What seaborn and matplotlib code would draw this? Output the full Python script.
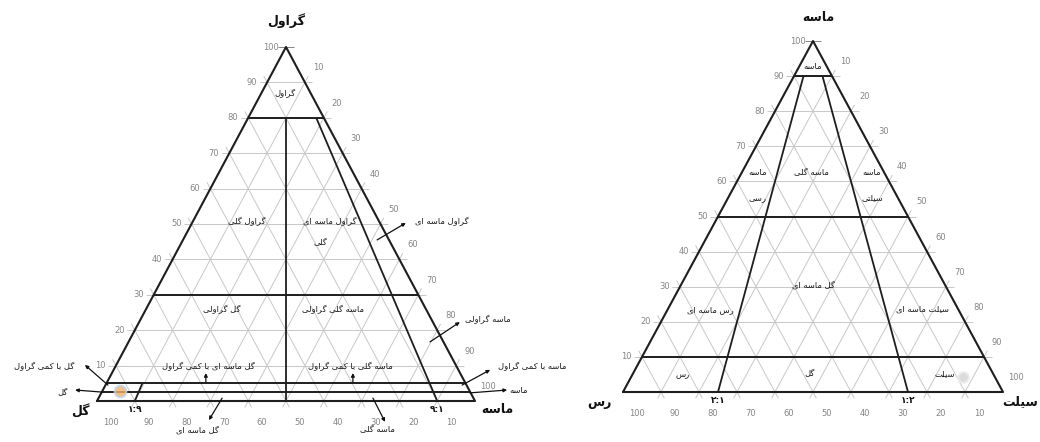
"""
Two ternary texture diagrams (gravel-sand-mud and sand-silt-clay) with Persian labels
"""
import matplotlib
matplotlib.use('Agg')
import matplotlib.pyplot as plt
import seaborn as sns
import numpy as np

# ================================================================================
# DATA
# ================================================================================

TICK_VALUES = [10, 20, 30, 40, 50, 60, 70, 80, 90, 100]

# left diagram: gravel (top), mud (bottom-left), sand (bottom-right)
LEFT_TOP_LEVELS = [0.80, 0.30, 0.05, 0.025]          # gravel fraction of class boundaries
LEFT_RAYS = [(0.5, 0.80), (0.9, 0.80), (0.1, 0.05)]  # (bottom fraction, gravel upper limit)
LEFT_RATIO_TEXT = [('۱:۹', 0.1), ('۹:۱', 0.9)]
LEFT_AXES_TEXT = [('گراول', 0.50, 1.076), ('گل', -0.045, -0.031), ('ماسه', 1.058, -0.025)]
LEFT_REGIONS = [
    ('گراول', 0.497, 0.867),
    ('گراول گلی', 0.397, 0.506),
    ('گراول ماسه ای', 0.616, 0.506),
    ('گلی', 0.590, 0.446),
    ('گل گراولی', 0.331, 0.257),
    ('ماسه گلی گراولی', 0.624, 0.257),
    ('گل ماسه ای با کمی گراول', 0.294, 0.096),
    ('ماسه گلی با کمی گراول', 0.669, 0.096),
]
# (text, text x, text y, target x, target y, text side x, text side y)
LEFT_CALLOUTS = [
    ('گراول ماسه ای', 0.913, 0.506, 0.741, 0.455, 0.817, 0.503),
    ('ماسه گراولی', 1.034, 0.229, 0.881, 0.167, 0.960, 0.223),
    ('ماسه با کمی گراول', 1.150, 0.096, 0.966, 0.045, 1.040, 0.088),
    ('ماسه', 1.116, 0.031, 0.987, 0.023, 1.085, 0.031),
    ('گل با کمی گراول', -0.140, 0.096, 0.029, 0.045, -0.032, 0.102),
    ('گل', -0.090, 0.025, 0.016, 0.025, -0.058, 0.031),
    ('گل ماسه ای', 0.265, -0.082, 0.331, 0.008, 0.296, -0.054),
    ('ماسه گلی', 0.741, -0.082, 0.730, 0.008, 0.762, -0.059),
    ('', 0.0, 0.0, 0.288, 0.054, 0.288, 0.079),
    ('', 0.0, 0.0, 0.677, 0.054, 0.677, 0.079),
]

# right diagram: sand (top), clay (bottom-left), silt (bottom-right)
RIGHT_TOP_LEVELS = [0.90, 0.50, 0.10]
RIGHT_RAYS = [(0.25, 0.90), (0.75, 0.90)]
RIGHT_RATIO_TEXT = [('۲:۱', 0.25), ('۱:۲', 0.75)]
RIGHT_AXES_TEXT = [('ماسه', 0.513, 1.068), ('رس', -0.061, -0.031), ('سیلت', 1.045, -0.026)]
RIGHT_REGIONS = [
    ('ماسه', 0.500, 0.926),
    ('ماسه', 0.353, 0.624),
    ('رسی', 0.353, 0.553),
    ('ماسه گلی', 0.497, 0.624),
    ('ماسه', 0.655, 0.624),
    ('سیلتی', 0.655, 0.553),
    ('گل ماسه ای', 0.500, 0.305),
    ('رس ماسه ای', 0.229, 0.236),
    ('سیلت ماسه ای', 0.787, 0.236),
    ('رس', 0.158, 0.051),
    ('گل', 0.492, 0.051),
    ('سیلت', 0.847, 0.051),
]

# ================================================================================
# PERSIAN SHAPING (matplotlib has no bidi / joining)
# ================================================================================

FORMS = {
    'ا': ('\uFE8D', '\uFE8E', None, None),
    'ب': ('\uFE8F', '\uFE90', '\uFE91', '\uFE92'),
    'ت': ('\uFE95', '\uFE96', '\uFE97', '\uFE98'),
    'ر': ('\uFEAD', '\uFEAE', None, None),
    'س': ('\uFEB1', '\uFEB2', '\uFEB3', '\uFEB4'),
    'ل': ('\uFEDD', '\uFEDE', '\uFEDF', '\uFEE0'),
    'م': ('\uFEE1', '\uFEE2', '\uFEE3', '\uFEE4'),
    'ن': ('\uFEE5', '\uFEE6', '\uFEE7', '\uFEE8'),
    'ه': ('\uFEE9', '\uFEEA', '\uFEEB', '\uFEEC'),
    'و': ('\uFEED', '\uFEEE', None, None),
    'ک': ('\uFB8E', '\uFB8F', '\uFB90', '\uFB91'),
    'گ': ('\uFB92', '\uFB93', '\uFB94', '\uFB95'),
    'ی': ('\uFBFC', '\uFBFD', '\uFBFE', '\uFBFF'),
}


def fa(text):
    out = []
    for i, c in enumerate(text):
        if c not in FORMS:
            out.append(c)
            continue
        iso, fin, ini, med = FORMS[c]
        prev = text[i - 1] if i > 0 else None
        nxt = text[i + 1] if i + 1 < len(text) else None
        join_prev = prev in FORMS and FORMS[prev][2] is not None
        join_next = ini is not None and nxt in FORMS
        if join_prev and join_next:
            out.append(med)
        elif join_prev:
            out.append(fin)
        elif join_next:
            out.append(ini)
        else:
            out.append(iso)
    return ''.join(out)[::-1]


# ================================================================================
# DRAWING
# ================================================================================

GRID = '#c8c8c8'
EDGE = '#1e1e1e'
TICK = '#858585'
EXT = 0.02


def seg(ax, p, q, ext=0.0, **kw):
    p, q = np.array(p, float), np.array(q, float)
    d = q - p
    d = d / np.hypot(*d)
    p, q = p - d * ext, q + d * ext
    ax.plot([p[0], q[0]], [p[1], q[1]], clip_on=False, solid_capstyle='butt', **kw)


def draw_ternary(ax, levels, rays, ratio_text, axes_text, regions):
    ax.set_xlim(0, 1)
    ax.set_ylim(0, 1)
    ax.axis('off')

    # grid every 10 %
    for f in np.arange(1, 10) / 10:
        seg(ax, (f / 2, f), (1 - f / 2, f), ext=EXT, color=GRID, lw=0.7)
        seg(ax, (f, 0), (f + (1 - f) / 2, 1 - f), ext=EXT, color=GRID, lw=0.7)
        seg(ax, (f, 0), (f / 2, f), ext=EXT, color=GRID, lw=0.7)
    seg(ax, (0.48, 1), (0.52, 1), color=TICK, lw=0.7)

    # tick labels
    for k, v in enumerate(TICK_VALUES):
        t = (k + 1) / 10
        ax.annotate(str(v), (t / 2, t), xytext=(-11, 0), textcoords='offset points',
                    ha='center', va='center', fontsize=6, color=TICK)
        t = 1 - (k + 1) / 10
        ax.annotate(str(v), (1 - t / 2, t), xytext=(9.5, 10.5), textcoords='offset points',
                    ha='center', va='center', fontsize=6, color=TICK)
        ax.annotate(str(TICK_VALUES[-1 - k]), (k / 10, 0), xytext=(10, -15.5),
                    textcoords='offset points', ha='center', va='center',
                    fontsize=6, color=TICK)

    # outline
    ax.plot([0, 1, 0.5, 0], [0, 0, 1, 0], color=EDGE, lw=1.5, clip_on=False)

    # class boundaries
    for t in levels:
        seg(ax, (t / 2, t), (1 - t / 2, t), color=EDGE, lw=1.4)
    for f, tmax in rays:
        seg(ax, (f, 0), (f * (1 - tmax) + 0.5 * tmax, tmax), color=EDGE, lw=1.3)

    for txt, f in ratio_text:
        ax.annotate(txt, (f, 0), xytext=(0, -6), textcoords='offset points',
                    ha='center', va='center', fontsize=6.5, color='#111',
                    fontweight='bold')
    for txt, x, y in axes_text:
        ax.text(x, y, fa(txt), ha='center', va='center', fontsize=9,
                fontweight='bold', color='#111')
    for txt, x, y in regions:
        ax.text(x, y, fa(txt), ha='center', va='center', fontsize=6, color='#1a1a1a')


sns.set_theme(style='white')
plt.rcParams['font.family'] = ['DejaVu Sans']

fig = plt.figure(figsize=(10.4, 4.42), dpi=100)
fig.patch.set_facecolor('white')

ax_l = fig.add_axes([97 / 1040, 41 / 442, 378 / 1040, 354 / 442])
draw_ternary(ax_l, LEFT_TOP_LEVELS, LEFT_RAYS, LEFT_RATIO_TEXT, LEFT_AXES_TEXT, LEFT_REGIONS)
for txt, tx, ty, x0, y0, x1, y1 in LEFT_CALLOUTS:
    ax_l.annotate('', xy=(x1, y1), xytext=(x0, y0), annotation_clip=False,
                  arrowprops=dict(arrowstyle='-|>', color='#111', lw=0.9,
                                  mutation_scale=5, shrinkA=0, shrinkB=0))
    if txt:
        ax_l.text(tx, ty, fa(txt), ha='center', va='center', fontsize=6, color='#1a1a1a')
# highlight marks left on the scanned figure
ax_l.scatter([0.061], [0.028], s=70, facecolor='#f4b26a', edgecolor='#bcd3ea',
             lw=1.5, alpha=0.8, clip_on=False, zorder=5)

ax_r = fig.add_axes([623 / 1040, 50 / 442, 380 / 1040, 351 / 442])
draw_ternary(ax_r, RIGHT_TOP_LEVELS, RIGHT_RAYS, RIGHT_RATIO_TEXT, RIGHT_AXES_TEXT, RIGHT_REGIONS)
ax_r.scatter([0.895], [0.043], s=60, facecolor='#d9d9d9', edgecolor='#eeeeee',
             lw=1.5, alpha=0.9, clip_on=False, zorder=5)

fig.savefig('out.png', dpi=100, facecolor='white')
